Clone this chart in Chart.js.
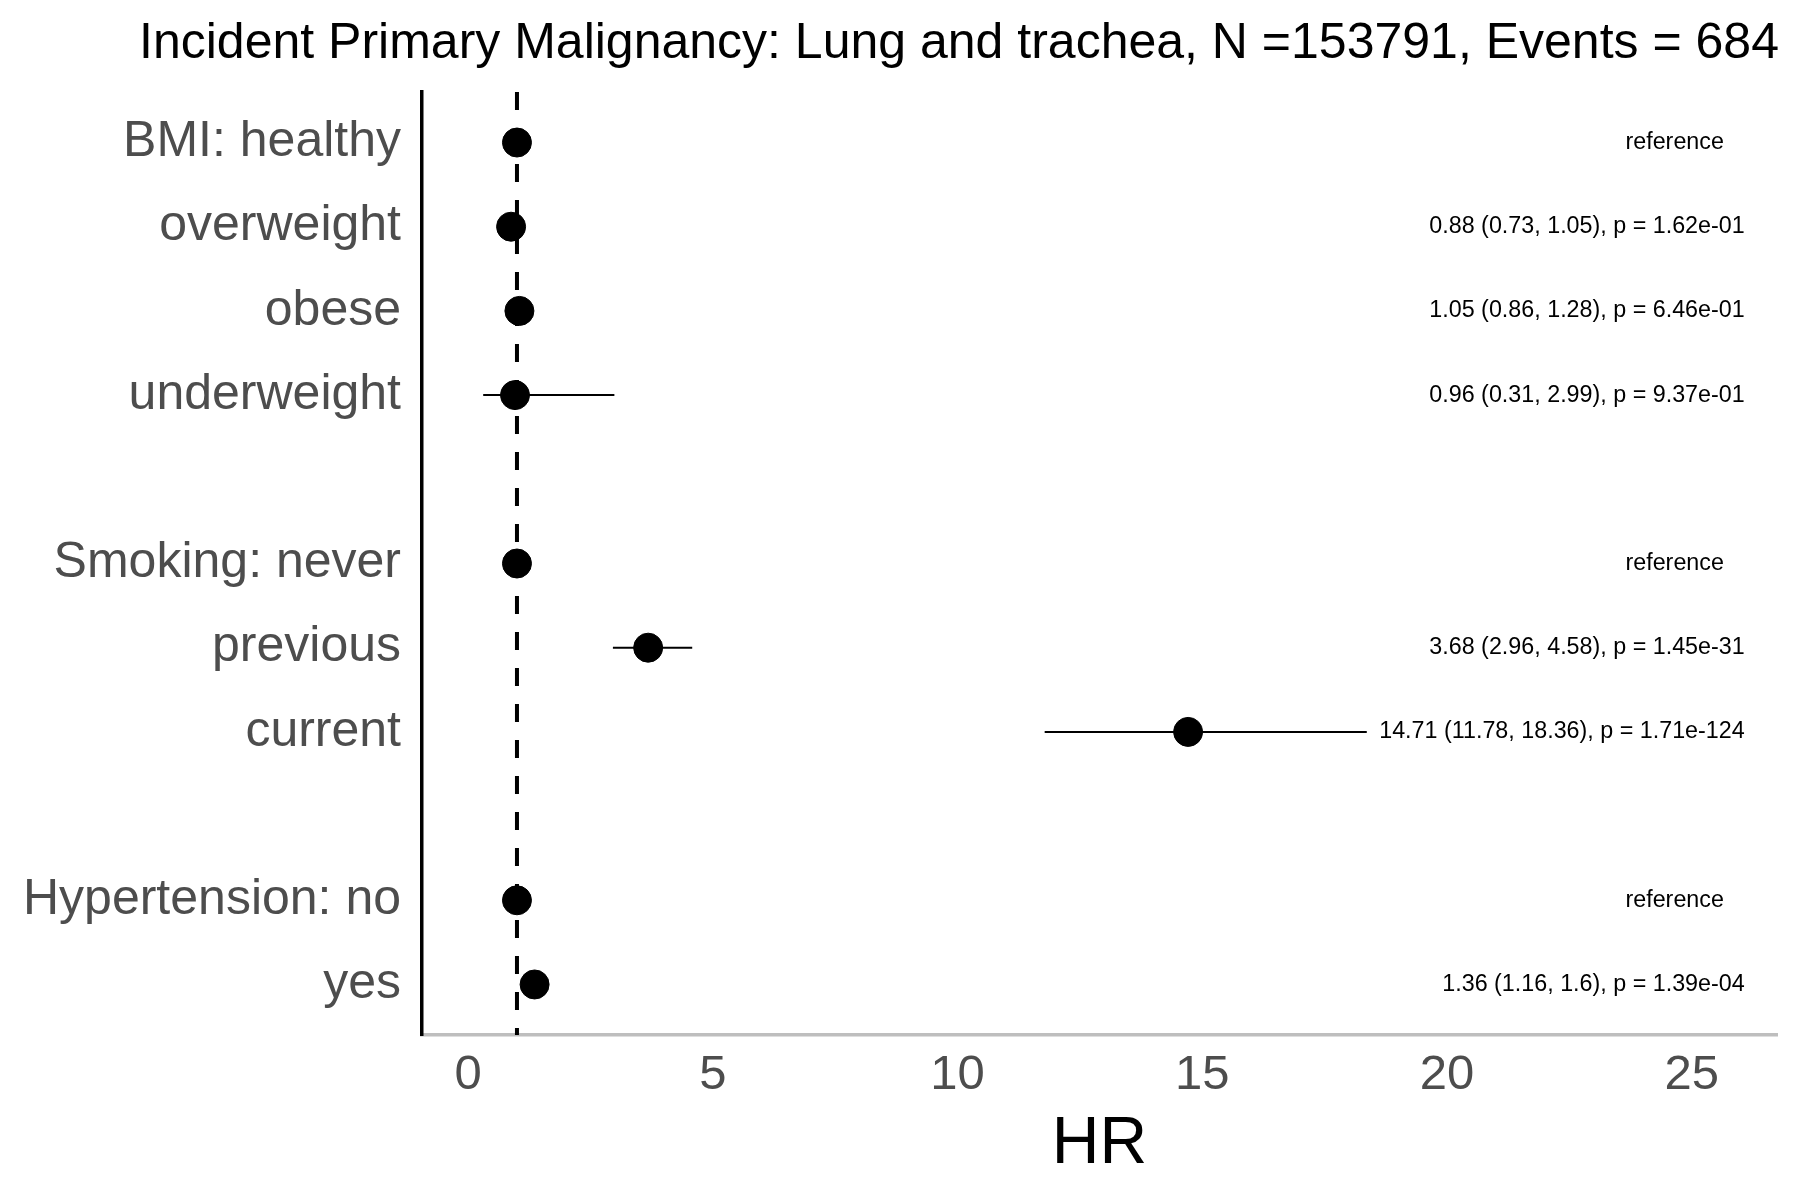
<!DOCTYPE html>
<html>
<head>
<meta charset="utf-8">
<script src="https://cdn.jsdelivr.net/npm/chart.js@4.4.1/dist/chart.umd.min.js"></script>
<style>
  html, body { margin: 0; padding: 0; background: #fff; }
  #wrap { width: 1800px; height: 1200px; }
</style>
</head>
<body>
<div id="wrap"><canvas id="forest"></canvas></div>
<script>
// rows from top to bottom, '' = spacer row between groups
const rowLabels = ['BMI: healthy', 'overweight', 'obese', 'underweight', '',
                   'Smoking: never', 'previous', 'current', '',
                   'Hypertension: no', 'yes'];
const hazardRatios = [1, 0.88, 1.05, 0.96, null, 1, 3.68, 14.71, null, 1, 1.36];
const ciLower = [null, 0.73, 0.86, 0.31, null, null, 2.96, 11.78, null, null, 1.16];
const ciUpper = [null, 1.05, 1.28, 2.99, null, null, 4.58, 18.36, null, null, 1.6];
const pValues = [null, '1.62e-01', '6.46e-01', '9.37e-01', null,
                 null, '1.45e-31', '1.71e-124', null, null, '1.39e-04'];
const isReference = [true, false, false, false, false, true, false, false, false, true, false];
const xTicks = [0, 5, 10, 15, 20, 25];

const FONT = '"Liberation Sans", Arial, Helvetica, sans-serif';
const Y_MIN = 0.4, Y_MAX = 11.6;

// one point per row with an estimate
const points = [];
hazardRatios.forEach((v, i) => {
    if (v !== null) points.push({ x: v, y: i + 1 });
});

// one short line dataset per confidence interval
const ciSets = [];
ciLower.forEach((lo, i) => {
    if (lo === null) return;
    ciSets.push({
        type: 'scatter',
        data: [{ x: lo, y: i + 1 }, { x: ciUpper[i], y: i + 1 }],
        showLine: true,
        borderColor: '#000',
        borderWidth: 2,
        pointRadius: 0,
        order: 3
    });
});

// text column on the right
const labelPlugin = {
    id: 'hrLabels',
    afterDatasetsDraw(chart) {
        const { ctx, scales } = chart;
        ctx.save();
        ctx.font = '23.3px ' + FONT;
        ctx.fillStyle = '#000';
        ctx.textBaseline = 'middle';
        rowLabels.forEach((_, i) => {
            const y = scales.y.getPixelForValue(i + 1);
            if (isReference[i]) {
                ctx.textAlign = 'center';
                ctx.fillText('reference', scales.x.getPixelForValue(24.65), y);
            } else if (hazardRatios[i] !== null) {
                const txt = `${hazardRatios[i]} (${ciLower[i]}, ${ciUpper[i]}), p = ${pValues[i]}`;
                ctx.textAlign = 'right';
                ctx.fillText(txt, scales.x.getPixelForValue(26.08), y);
            }
        });
        ctx.restore();
    }
};

new Chart(document.getElementById('forest'), {
    type: 'scatter',
    data: {
        datasets: [
            {
                data: points,
                backgroundColor: '#000',
                borderColor: '#000',
                pointRadius: 14.5,
                pointHoverRadius: 14.5,
                order: 1
            },
            ...ciSets,
            {
                data: [{ x: 1, y: Y_MIN }, { x: 1, y: Y_MAX }],
                showLine: true,
                borderColor: '#000',
                borderWidth: 4,
                borderDash: [18, 18],
                pointRadius: 0,
                order: 5
            }
        ]
    },
    options: {
        responsive: true,
        maintainAspectRatio: false,
        animation: false,
        // title is centred a bit right of the canvas middle in the original
        layout: { padding: { left: 0, right: -118, top: 0, bottom: 0 } },
        plugins: {
            legend: { display: false },
            tooltip: { enabled: false },
            title: {
                display: true,
                text: 'Incident Primary Malignancy: Lung and trachea, N =153791, Events = 684',
                color: '#000',
                font: { family: FONT, size: 50, weight: 'normal' },
                padding: { top: 14, bottom: 18 }
            }
        },
        scales: {
            x: {
                type: 'linear',
                min: -0.94,
                max: 26.74,
                afterBuildTicks: (scale) => { scale.ticks = xTicks.map(v => ({ value: v })); },
                grid: { display: false, drawTicks: false },
                border: { display: true, color: '#BEBEBE', width: 3.5 },
                ticks: {
                    color: '#4D4D4D',
                    font: { family: FONT, size: 49 },
                    padding: 11,
                    maxRotation: 0
                },
                title: {
                    display: true,
                    text: 'HR',
                    color: '#000',
                    font: { family: FONT, size: 66 },
                    padding: { top: -11, bottom: 16 }
                }
            },
            y: {
                type: 'linear',
                reverse: true,
                min: Y_MIN,
                max: Y_MAX,
                afterBuildTicks: (scale) => { scale.ticks = rowLabels.map((_, i) => ({ value: i + 1 })); },
                afterFit: (scale) => { scale.width = 422; },
                grid: { display: false, drawTicks: false },
                border: { display: true, color: '#000', width: 3.5 },
                ticks: {
                    color: '#4D4D4D',
                    font: { family: FONT, size: 50 },
                    padding: 21,
                    callback: (v) => rowLabels[Math.round(v) - 1] || ''
                }
            },
            // empty right-hand box that keeps the panel edge where the original has it
            yRight: {
                type: 'linear',
                position: 'right',
                display: true,
                afterFit: (scale) => { scale.width = 141; },
                grid: { display: false, drawTicks: false },
                border: { display: false },
                ticks: { display: false }
            }
        }
    },
    plugins: [labelPlugin]
});
</script>
</body>
</html>
